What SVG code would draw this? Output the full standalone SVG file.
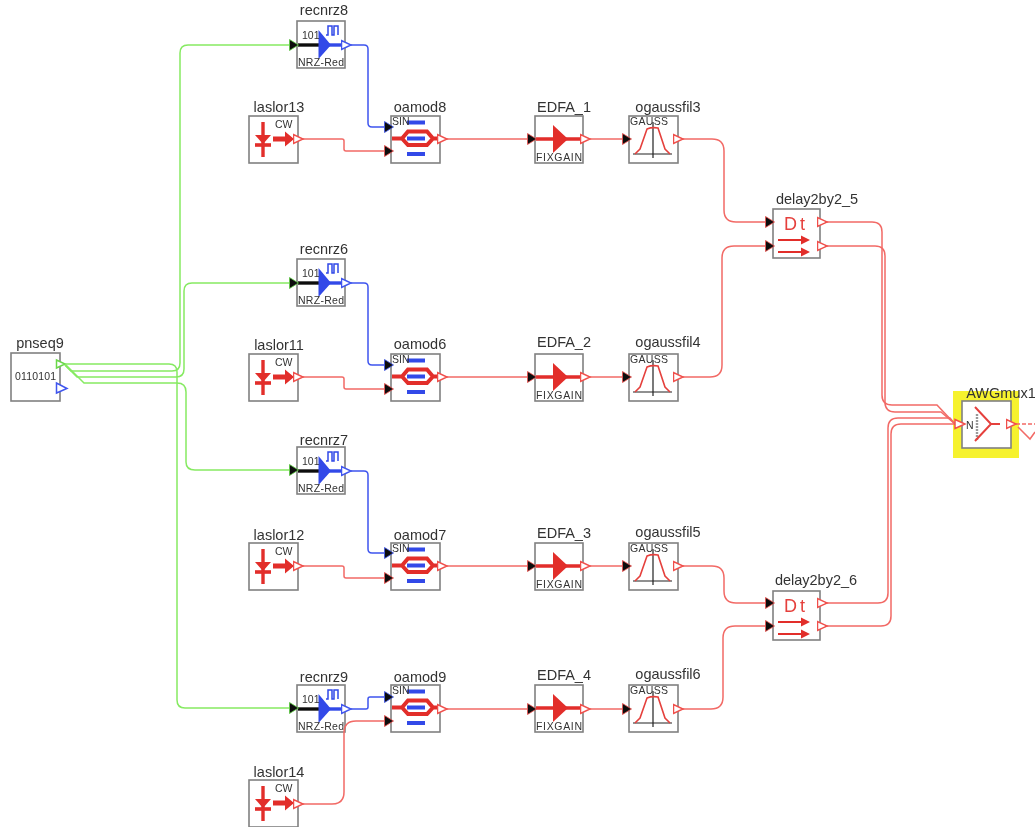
<svg xmlns="http://www.w3.org/2000/svg" width="1035" height="827" viewBox="0 0 1035 827">
<style>
.box{fill:#fff;stroke:#808080;stroke-width:1.6}
.lbl{font:14.5px "Liberation Sans",Arial,sans-serif;fill:#333;text-anchor:middle}
.sm{font:10.5px "Liberation Sans",Arial,sans-serif;fill:#333}
.dt{font:18px "Liberation Sans",Arial,sans-serif;letter-spacing:3px;fill:#e5403c}
.c{fill:none;stroke-width:1.5}
.g{stroke:#86ea62;marker-end:url(#inG)}
.b{stroke:#3f55ee;marker-start:url(#outB);marker-end:url(#inB)}
.r{stroke:#f26a66;marker-start:url(#outR);marker-end:url(#inR)}
.rn{stroke:#f26a66;marker-start:url(#outR)}
.thk{stroke-width:3.4;fill:none}
</style>
<defs>
<filter id="soft" filterUnits="userSpaceOnUse" x="0" y="0" width="1035" height="827"><feGaussianBlur stdDeviation="0.5"/></filter>
<marker id="outR" markerUnits="userSpaceOnUse" markerWidth="12" markerHeight="12" refX="10.500" refY="6" orient="0"><path d="M1,1.500V10.500L10.500,6Z" fill="#fff" stroke="#f0504c" stroke-width="1.500"/></marker>
<marker id="outB" markerUnits="userSpaceOnUse" markerWidth="12" markerHeight="12" refX="10.500" refY="6" orient="0"><path d="M1,1.500V10.500L10.500,6Z" fill="#fff" stroke="#3f55ee" stroke-width="1.500"/></marker>
<marker id="inR" markerUnits="userSpaceOnUse" markerWidth="11" markerHeight="14" refX="0.500" refY="7" orient="0"><path d="M1,1.500V12.500L10,7Z" fill="#111" stroke="#f0504c" stroke-width="0.800"/></marker>
<marker id="inB" markerUnits="userSpaceOnUse" markerWidth="11" markerHeight="14" refX="0.500" refY="7" orient="0"><path d="M1,1.500V12.500L10,7Z" fill="#111" stroke="#3f55ee" stroke-width="0.800"/></marker>
<marker id="inG" markerUnits="userSpaceOnUse" markerWidth="11" markerHeight="14" refX="0.500" refY="7" orient="0"><path d="M1,1.500V12.500L10,7Z" fill="#111" stroke="#5cd040" stroke-width="0.800"/></marker>
<g id="recS">
<rect class="box" width="48" height="47"/>
<path class="thk" stroke="#111" d="M1,24H22"/>
<path class="thk" stroke="#3048e8" d="M30,24H45"/>
<path d="M21.500,9V38L34,24Z" fill="#3048e8"/>
<path d="M29,14H31V5H35V14H37V5H41V14" fill="none" stroke="#3048e8" stroke-width="1.500"/>
</g>
<g id="lasS">
<rect class="box" width="49" height="47"/>
<path d="M14,6V41" stroke="#e22d2a" stroke-width="3.400" fill="none"/>
<path d="M6,19H22L14,28Z" fill="#e22d2a"/>
<path d="M6,29H22" stroke="#e22d2a" stroke-width="3.600"/>
<path d="M24,20.500H36V15.500L45,23L36,30.500V25.500H24Z" fill="#e22d2a"/>
</g>
<g id="oamS">
<rect class="box" width="49" height="47"/>
<path d="M16,6.500H34M16,22.500H34M16,38H34" stroke="#3048e8" stroke-width="4.200" fill="none"/>
<path d="M1,22.500H11L17,15.500H36L42,22.500H46M11,22.500L17,29H36L42,22.500" stroke="#e22d2a" stroke-width="4" fill="none"/>
</g>
<g id="edfS">
<rect class="box" width="48" height="47"/>
<path class="thk" stroke="#e22d2a" d="M1,23H45"/>
<path d="M18,9V37L33,23Z" fill="#e22d2a"/>
</g>
<g id="gauS">
<rect class="box" width="49" height="47"/>
<path d="M4,38H43M24,6V42" stroke="#222" stroke-width="1.200" fill="none"/>
<path d="M6,38L11,33L18,13Q23,11 29,12L36,33L41,38" stroke="#e5403c" stroke-width="1.600" fill="none"/>
</g>
<g id="delS">
<rect class="box" width="47" height="49"/>
<path d="M5,31H33M5,43H33" stroke="#e22d2a" stroke-width="2" fill="none"/>
<path d="M28,26.500L37,31L28,35.500ZM28,38.500L37,43L28,47.500Z" fill="#e22d2a"/>
</g>
</defs>
<rect width="1035" height="827" fill="#fff"/>
<g filter="url(#soft)">
<g id="pnseq9"><rect class="box" x="11" y="353" width="49" height="48"/><text class="sm" x="15" y="380" textLength="41">0110101</text><text class="lbl" x="40" y="348">pnseq9</text>
<path d="M56.500,360V368L65,364Z" fill="#fff" stroke="#6ad84a" stroke-width="1.500"/>
<path d="M56.500,383V393L67,388.500Z" fill="#fff" stroke="#3f55ee" stroke-width="1.500"/></g>

<g id="recnrz8" transform="translate(297,21)"><use href="#recS"/><text class="sm" x="5" y="17.500">101</text><text class="sm" x="1" y="45" textLength="46">NRZ-Red</text><text class="lbl" x="27" y="-6">recnrz8</text></g>
<g id="recnrz6" transform="translate(297,259)"><use href="#recS"/><text class="sm" x="5" y="17.500">101</text><text class="sm" x="1" y="45" textLength="46">NRZ-Red</text><text class="lbl" x="27" y="-5">recnrz6</text></g>
<g id="recnrz7" transform="translate(297,447)"><use href="#recS"/><text class="sm" x="5" y="17.500">101</text><text class="sm" x="1" y="45" textLength="46">NRZ-Red</text><text class="lbl" x="27" y="-2">recnrz7</text></g>
<g id="recnrz9" transform="translate(297,685)"><use href="#recS"/><text class="sm" x="5" y="17.500">101</text><text class="sm" x="1" y="45" textLength="46">NRZ-Red</text><text class="lbl" x="27" y="-3">recnrz9</text></g>

<g id="laslor13" transform="translate(249,116)"><use href="#lasS"/><text class="sm" x="26" y="12">CW</text><text class="lbl" x="30" y="-4">laslor13</text></g>
<g id="laslor11" transform="translate(249,354)"><use href="#lasS"/><text class="sm" x="26" y="12">CW</text><text class="lbl" x="30" y="-4">laslor11</text></g>
<g id="laslor12" transform="translate(249,543)"><use href="#lasS"/><text class="sm" x="26" y="12">CW</text><text class="lbl" x="30" y="-3">laslor12</text></g>
<g id="laslor14" transform="translate(249,780)"><use href="#lasS"/><text class="sm" x="26" y="12">CW</text><text class="lbl" x="30" y="-3">laslor14</text></g>

<g id="oamod8" transform="translate(391,116)"><use href="#oamS"/><text class="sm" x="1" y="9">SIN</text><text class="lbl" x="29" y="-4">oamod8</text></g>
<g id="oamod6" transform="translate(391,354)"><use href="#oamS"/><text class="sm" x="1" y="9">SIN</text><text class="lbl" x="29" y="-5">oamod6</text></g>
<g id="oamod7" transform="translate(391,543)"><use href="#oamS"/><text class="sm" x="1" y="9">SIN</text><text class="lbl" x="29" y="-3">oamod7</text></g>
<g id="oamod9" transform="translate(391,685)"><use href="#oamS"/><text class="sm" x="1" y="9">SIN</text><text class="lbl" x="29" y="-3">oamod9</text></g>

<g id="EDFA_1" transform="translate(535,116)"><use href="#edfS"/><text class="sm" x="1" y="45" textLength="46">FIXGAIN</text><text class="lbl" x="29" y="-4">EDFA_1</text></g>
<g id="EDFA_2" transform="translate(535,354)"><use href="#edfS"/><text class="sm" x="1" y="45" textLength="46">FIXGAIN</text><text class="lbl" x="29" y="-7">EDFA_2</text></g>
<g id="EDFA_3" transform="translate(535,543)"><use href="#edfS"/><text class="sm" x="1" y="45" textLength="46">FIXGAIN</text><text class="lbl" x="29" y="-5">EDFA_3</text></g>
<g id="EDFA_4" transform="translate(535,685)"><use href="#edfS"/><text class="sm" x="1" y="45" textLength="46">FIXGAIN</text><text class="lbl" x="29" y="-5">EDFA_4</text></g>

<g id="ogaussfil3" transform="translate(629,116)"><use href="#gauS"/><text class="sm" x="1" y="9" textLength="38">GAUSS</text><text class="lbl" x="39" y="-4">ogaussfil3</text></g>
<g id="ogaussfil4" transform="translate(629,354)"><use href="#gauS"/><text class="sm" x="1" y="9" textLength="38">GAUSS</text><text class="lbl" x="39" y="-7">ogaussfil4</text></g>
<g id="ogaussfil5" transform="translate(629,543)"><use href="#gauS"/><text class="sm" x="1" y="9" textLength="38">GAUSS</text><text class="lbl" x="39" y="-6">ogaussfil5</text></g>
<g id="ogaussfil6" transform="translate(629,685)"><use href="#gauS"/><text class="sm" x="1" y="9" textLength="38">GAUSS</text><text class="lbl" x="39" y="-6">ogaussfil6</text></g>

<g id="delay2by2_5" transform="translate(773,209)"><use href="#delS"/><text class="dt" x="11" y="21">Dt</text><text class="lbl" x="44" y="-5">delay2by2_5</text></g>
<g id="delay2by2_6" transform="translate(773,591)"><use href="#delS"/><text class="dt" x="11" y="21">Dt</text><text class="lbl" x="43" y="-6">delay2by2_6</text></g>

<g id="AWGmux1"><rect x="953" y="391" width="66" height="67" fill="#f6f22e"/><rect class="box" x="962" y="401" width="49" height="47"/>
<path d="M977,414V441" stroke="#999" stroke-width="2.400" stroke-dasharray="2 1" fill="none"/>
<path d="M975,407L991,424L975,441M991,424H1000" stroke="#e5403c" stroke-width="2" fill="none"/>
<text class="sm" x="966" y="429">N</text><text class="lbl" x="1001" y="398">AWGmux1</text></g>

<g id="connectors">
<path class="c g" d="M65,365L71,371H172Q180,371 180,363V53Q180,45 188,45H289"/>
<path class="c g" d="M65,365L77,377H176Q184,377 184,369V291Q184,283 192,283H289"/>
<path class="c g" d="M65,364H169Q177,364 177,372V700Q177,708 185,708H289"/>
<path class="c g" d="M65,364L84,383H177Q186,383 186,392V462Q186,470 195,470H289"/>

<path class="c b" d="M351,45H364Q368,45 368,49V123Q368,127 372,127H384"/>
<path class="c b" d="M351,283H364Q368,283 368,287V361Q368,365 372,365H384"/>
<path class="c b" d="M351,471H364Q368,471 368,475V549Q368,553 372,553H384"/>
<path class="c b" d="M351,709H366Q368,709 368,707V699Q368,697 370,697H384"/>

<path class="c r" d="M303,139H342Q344,139 344,141V149Q344,151 346,151H384"/>
<path class="c r" d="M303,377H342Q344,377 344,379V387Q344,389 346,389H384"/>
<path class="c r" d="M303,566H342Q344,566 344,568V576Q344,578 346,578H384"/>
<path class="c r" d="M303,804H332Q344,804 344,792V733Q344,721 356,721H384"/>

<path class="c r" d="M447,139H527"/><path class="c r" d="M590,139H622"/>
<path class="c r" d="M447,377H527"/><path class="c r" d="M590,377H622"/>
<path class="c r" d="M447,566H527"/><path class="c r" d="M590,566H622"/>
<path class="c r" d="M447,709H527"/><path class="c r" d="M590,709H622"/>

<path class="c r" d="M683,139H712Q724,139 724,151V210Q724,222 736,222H765"/>
<path class="c r" d="M683,377H710Q722,377 722,365V258Q722,246 734,246H765"/>
<path class="c r" d="M683,566H712Q724,566 724,578V591Q724,603 736,603H765"/>
<path class="c r" d="M683,709H711Q723,709 723,697V638Q723,626 735,626H765"/>

<path class="c rn" d="M827,222H872Q882,222 882,232V395Q882,405 892,405H937L955,424"/>
<path class="c rn" d="M827,246H875Q885,246 885,256V402Q885,412 895,412H941L955,424"/>
<path class="c rn" d="M827,603H878Q888,603 888,593V428Q888,418 898,418H950L955,424"/>
<path class="c rn" d="M827,626H881Q891,626 891,616V434Q891,424 901,424H955"/>
<path class="c rn" d="M1016,424H1035" stroke-dasharray="4 2"/>
<path class="c" stroke="#f26a66" d="M1018,427L1030,439L1035,432"/>
<path d="M955,419.500V428.500L965,424Z" fill="#fff" stroke="#f0504c" stroke-width="1.500"/>
</g>
</g>
</svg>
